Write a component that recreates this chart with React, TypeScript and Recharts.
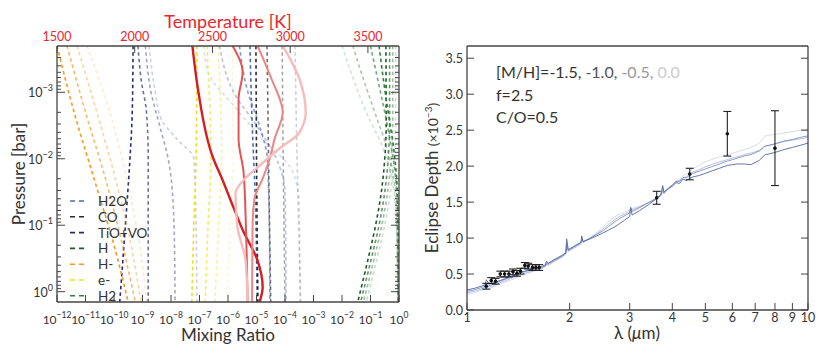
import React from "react";
import { ComposedChart, ErrorBar, Line, LineChart, Scatter, XAxis, YAxis } from "recharts";

const FONT = "Lato, 'Open Sans', sans-serif";
const AX = "#444";
const TXT = "#333";
const TEMP_RED = "#e8262d";
const AXLINE = { stroke: AX, strokeWidth: 1.3 };

// ---------- left panel: [log10 P (bar), log10 mixing ratio], darkest profile first ----------
const H2O = [
  [[-3.7, -5.23], [-2.5, -5.15], [-1.5, -5.05], [0.16, -4.98]],
  [[-3.7, -5.6], [-3.0, -5.3], [-2.5, -4.9], [-2.0, -4.62], [-1.0, -4.55], [0.16, -4.53]],
  [[-3.7, -6.3], [-3.0, -5.8], [-2.5, -5.0], [-2.0, -4.3], [-1.5, -4.0], [0.16, -3.96]],
  [[-3.7, -6.85], [-3.3, -6.7], [-2.8, -5.8], [-2.3, -4.8], [-1.8, -3.72], [-1.3, -3.5], [0.16, -3.47]],
];
const CO = [
  [[-3.7, -5.02], [-1.5, -4.99], [0.16, -4.95]],
  [[-3.7, -4.63], [-1.5, -4.56], [0.16, -4.5]],
  [[-3.7, -4.1], [-1.5, -4.05], [0.16, -4.0]],
  [[-3.7, -3.65], [-1.5, -3.55], [0.16, -3.45]],
];
const TIO_VO = [
  [[-3.7, -9.33], [-2.7, -9.36], [-2.0, -9.44], [-1.0, -9.6], [0.16, -9.8]],
  [[-3.7, -9.16], [-3.2, -9.05], [-2.7, -8.86], [-2.0, -8.8], [-1.0, -8.8], [0.16, -8.8]],
  [[-3.7, -8.9], [-3.0, -8.7], [-2.5, -8.4], [-2.0, -8.1], [-1.5, -7.95], [-0.5, -7.87], [0.16, -7.86]],
  [[-3.7, -8.77], [-3.0, -8.55], [-2.6, -8.35], [-2.3, -7.8], [-2.0, -7.2], [-1.0, -7.12], [0.16, -7.09]],
];
const H_ATOM = [
  [[-3.7, -0.46], [-2.5, -0.45], [-2.0, -0.5], [-1.5, -0.62], [-1.0, -0.82], [-0.5, -1.08], [0.16, -1.45]],
  [[-3.7, -0.33], [-2.5, -0.33], [-2.0, -0.38], [-1.5, -0.5], [-1.0, -0.7], [-0.5, -0.97], [0.16, -1.35]],
  [[-3.7, -0.22], [-2.5, -0.22], [-2.0, -0.27], [-1.5, -0.4], [-1.0, -0.6], [-0.5, -0.87], [0.16, -1.25]],
  [[-3.7, -0.12], [-2.5, -0.12], [-2.0, -0.17], [-1.5, -0.3], [-1.0, -0.5], [-0.5, -0.77], [0.16, -1.15]],
];
const H_MINUS = [
  [[-3.7, -12.0], [-2.7, -11.4], [-1.7, -10.7], [-0.7, -10.0], [0.16, -9.5]],
  [[-3.7, -11.65], [-2.7, -11.0], [-1.7, -10.3], [-0.7, -9.7], [0.16, -9.25]],
  [[-3.7, -11.3], [-2.7, -10.6], [-1.7, -9.95], [-0.7, -9.4], [0.16, -9.05]],
  [[-3.7, -10.95], [-2.7, -10.15], [-1.7, -9.55], [-0.7, -9.1], [0.16, -8.85]],
];
const E_MINUS = [
  [[-3.7, -7.09], [-2.0, -7.12], [-1.0, -7.2], [0.16, -7.27]],
  [[-3.7, -6.74], [-2.0, -6.6], [-1.0, -6.7], [0.16, -6.8]],
  [[-3.7, -6.35], [-2.0, -6.22], [-1.0, -6.33], [0.16, -6.46]],
  [[-3.7, -5.85], [-2.0, -5.82], [-1.0, -5.92], [0.16, -6.04]],
];
const H2 = [
  [[-3.7, -0.7], [-3.2, -0.55], [-2.7, -0.38], [-2.2, -0.2], [-1.8, -0.1], [-1.2, -0.04], [0.16, -0.02]],
  [[-3.7, -1.0], [-3.2, -0.75], [-2.7, -0.5], [-2.2, -0.28], [-1.8, -0.14], [-1.2, -0.06], [0.16, -0.03]],
  [[-3.7, -1.62], [-3.2, -1.25], [-2.7, -0.85], [-2.2, -0.45], [-1.8, -0.22], [-1.2, -0.09], [0.16, -0.04]],
  [[-3.7, -2.0], [-3.2, -1.6], [-2.7, -1.15], [-2.2, -0.6], [-1.8, -0.3], [-1.2, -0.12], [0.16, -0.05]],
];

// temperature profiles: [log10 P (bar), T (K)]
const TEMP_PROFILES = [
  [[-3.7, 2371], [-3.0, 2410], [-2.0, 2506], [-1.68, 2565], [-1.38, 2616], [-0.9, 2700], [-0.47, 2790], [-0.07, 2823], [0.16, 2803]],
  [[-3.7, 2629], [-3.3, 2694], [-2.9, 2668], [-2.3, 2668], [-1.8, 2700], [-1.0, 2715], [0.16, 2726]],
  [[-3.7, 2790], [-3.2, 2880], [-2.7, 2952], [-2.3, 2900], [-2.0, 2868], [-1.7, 2823], [-1.4, 2770], [-1.0, 2758], [0.16, 2755]],
  [[-3.7, 2952], [-3.2, 3060], [-2.7, 3100], [-2.38, 3055], [-2.17, 2939], [-1.87, 2790], [-1.68, 2700], [-1.48, 2648], [-0.97, 2661], [-0.47, 2713], [0.16, 2726]],
];
const TEMP_COLORS = ["#d41f22", "#e25555", "#ec8585", "#f6bcbc"];
const TEMP_WIDTHS = [2.4, 2, 2, 2.4];

const SPECIES = [
  { name: "H2O", color: "#4a6ab5", profiles: H2O },
  { name: "CO", color: "#2b2b2b", profiles: CO },
  { name: "TiO+VO", color: "#262b73", profiles: TIO_VO },
  { name: "H", color: "#1d5c27", profiles: H_ATOM },
  { name: "H-", color: "#f39a1e", profiles: H_MINUS },
  { name: "e-", color: "#f0e01c", profiles: E_MINUS },
  { name: "H2", color: "#2f7f3a", profiles: H2 },
];
const ALPHA = [1, 0.68, 0.42, 0.22];

const MIX_TICKS = [1e-12, 1e-11, 1e-10, 1e-9, 1e-8, 1e-7, 1e-6, 1e-5, 1e-4, 1e-3, 1e-2, 1e-1, 1];
const TEMP_TICKS = [1500, 2000, 2500, 3000, 3500];
const P_TOP = 2.01e-4;
const P_BOTTOM = 1.43;
const P_MAJOR = [1e-3, 1e-2, 1e-1, 1];
const P_TICKS = [
  ...P_MAJOR,
  ...[1e-4, 1e-3, 1e-2, 1e-1].flatMap((d) => [2, 3, 4, 5, 6, 7, 8, 9].map((k) => k * d)),
].filter((v) => v > P_TOP && v < P_BOTTOM);

// ---------- right panel ----------
const WAVELENGTH = [
  1.0, 1.05, 1.1, 1.13, 1.14, 1.16, 1.2, 1.25, 1.3, 1.35,
  1.4, 1.45, 1.5, 1.55, 1.6, 1.65, 1.7, 1.71, 1.73, 1.8,
  1.85, 1.9, 1.95, 1.96, 1.98, 2.05, 2.1, 2.16, 2.17, 2.19,
  2.3, 2.4, 2.5, 2.6, 2.7, 2.8, 2.9, 3.0, 3.02, 3.05,
  3.2, 3.4, 3.6, 3.7, 3.75, 3.78, 3.9, 4.0, 4.1, 4.2,
  4.3, 4.4, 4.5, 4.6, 4.8, 5.0, 5.2, 5.5, 5.8, 6.0,
  6.2, 6.5, 6.8, 7.2, 7.4, 7.5, 7.7, 8.0, 8.5, 9.0,
  9.5, 10.0,
];
const MH_M15 = [
  0.28, 0.3, 0.33, 0.35, 0.42, 0.36, 0.38, 0.41, 0.44, 0.47,
  0.5, 0.53, 0.55, 0.57, 0.58, 0.6, 0.63, 0.68, 0.65, 0.7,
  0.73, 0.76, 0.8, 0.99, 0.84, 0.88, 0.91, 0.94, 1.03, 0.95,
  0.99, 1.03, 1.07, 1.11, 1.15, 1.2, 1.25, 1.3, 1.42, 1.32,
  1.38, 1.46, 1.55, 1.6, 1.73, 1.64, 1.69, 1.72, 1.77, 1.76,
  1.82, 1.8, 1.83, 1.85, 1.87, 1.9, 1.93, 1.97, 2.01, 2.02,
  2.03, 2.03, 2.02, 2.08, 2.14, 2.16, 2.17, 2.19, 2.23, 2.26,
  2.29, 2.32,
];
const MH_M10 = [
  0.26, 0.28, 0.31, 0.33, 0.38, 0.34, 0.36, 0.4, 0.43, 0.46,
  0.49, 0.52, 0.54, 0.56, 0.57, 0.59, 0.62, 0.66, 0.64, 0.69,
  0.72, 0.75, 0.79, 0.95, 0.83, 0.87, 0.9, 0.94, 1.01, 0.95,
  1.0, 1.05, 1.1, 1.16, 1.22, 1.27, 1.31, 1.35, 1.43, 1.37,
  1.42, 1.49, 1.56, 1.6, 1.7, 1.63, 1.7, 1.74, 1.79, 1.79,
  1.84, 1.84, 1.87, 1.9, 1.93, 1.96, 1.99, 2.03, 2.07, 2.09,
  2.11, 2.14, 2.16, 2.21, 2.26, 2.28, 2.29, 2.31, 2.35, 2.37,
  2.4, 2.42,
];
const MH_M05 = [
  0.24, 0.26, 0.29, 0.31, 0.35, 0.32, 0.34, 0.38, 0.41, 0.44,
  0.47, 0.5, 0.52, 0.54, 0.56, 0.58, 0.61, 0.64, 0.63, 0.68,
  0.71, 0.74, 0.78, 0.92, 0.82, 0.86, 0.89, 0.93, 0.99, 0.94,
  1.0, 1.06, 1.12, 1.19, 1.25, 1.3, 1.33, 1.37, 1.41, 1.39,
  1.43, 1.49, 1.55, 1.59, 1.66, 1.62, 1.69, 1.73, 1.78, 1.79,
  1.84, 1.85, 1.89, 1.92, 1.95, 1.99, 2.02, 2.06, 2.09, 2.11,
  2.13, 2.16, 2.18, 2.22, 2.26, 2.28, 2.29, 2.31, 2.34, 2.36,
  2.38, 2.4,
];
const MH_00 = [
  0.22, 0.24, 0.27, 0.29, 0.32, 0.3, 0.32, 0.36, 0.39, 0.42,
  0.45, 0.48, 0.5, 0.53, 0.55, 0.57, 0.6, 0.63, 0.62, 0.67,
  0.7, 0.74, 0.78, 0.9, 0.81, 0.85, 0.88, 0.92, 0.97, 0.94,
  1.01, 1.08, 1.15, 1.23, 1.29, 1.33, 1.36, 1.39, 1.41, 1.41,
  1.44, 1.49, 1.54, 1.58, 1.64, 1.61, 1.68, 1.73, 1.79, 1.81,
  1.87, 1.89, 1.93, 1.97, 2.01, 2.06, 2.09, 2.13, 2.16, 2.18,
  2.2, 2.23, 2.26, 2.32, 2.39, 2.42, 2.43, 2.44, 2.46, 2.48,
  2.5, 2.51,
];
const MODEL_KEYS = ["m15", "m10", "m05", "m00"];
const MODEL_ALPHA = [1, 0.7, 0.45, 0.25];

const OBS_WL = [1.139, 1.178, 1.213, 1.252, 1.289, 1.327, 1.364, 1.401, 1.435, 1.478, 1.512, 1.556, 1.592, 1.628, 3.6, 4.5, 5.8, 8.0];
const OBS_DEPTH = [0.33, 0.41, 0.4, 0.5, 0.5, 0.5, 0.53, 0.51, 0.54, 0.62, 0.61, 0.59, 0.59, 0.59, 1.56, 1.89, 2.45, 2.25];
const OBS_ERR = [0.04, 0.04, 0.04, 0.04, 0.04, 0.04, 0.04, 0.04, 0.04, 0.04, 0.04, 0.04, 0.04, 0.04, 0.09, 0.08, 0.31, 0.52];

const WL_TICKS = [1, 2, 3, 4, 5, 6, 7, 8, 9, 10];
const DEPTH_TICKS = [0, 0.5, 1, 1.5, 2, 2.5, 3, 3.5];

const MODEL_ROWS = WAVELENGTH.map((wl, i) => ({
  wl,
  m15: MH_M15[i],
  m10: MH_M10[i],
  m05: MH_M05[i],
  m00: MH_00[i],
}));
const OBS_ROWS = OBS_WL.map((wl, i) => ({ wl, depth: OBS_DEPTH[i], err: OBS_ERR[i] }));

const profileRows = (prof: number[][]) => prof.map(([lp, lx]) => ({ p: 10 ** lp, mix: 10 ** lx }));
const tempRows = (prof: number[][]) => prof.map(([lp, t]) => ({ p: 10 ** lp, T: t }));

const expOf = (v: number) => Math.round(Math.log10(v));
const isDecade = (v: number) => Math.abs(Math.log10(v) - Math.round(Math.log10(v))) < 1e-6;
const minus = (n: number) => (n < 0 ? `\u2212${-n}` : `${n}`);

// ---------- ticks (drawn inside the frame, matplotlib style) ----------
function MixTick(props: any) {
  const { x, y, payload } = props;
  return (
    <g>
      <line x1={x} x2={x} y1={y} y2={y - 7} stroke={AX} strokeWidth={1} />
      <text x={x} y={y + 22} textAnchor="middle" fontSize={12} fill={TXT} fontFamily={FONT}>
        10<tspan dy={-6} fontSize={8.5}>{minus(expOf(payload.value))}</tspan>
      </text>
    </g>
  );
}

function TempTick(props: any) {
  const { x, y, payload } = props;
  return (
    <g>
      <line x1={x} x2={x} y1={y} y2={y + 7} stroke={AX} strokeWidth={1} />
      <text x={x} y={y - 5} textAnchor="middle" fontSize={12.5} fill={TEMP_RED} fontFamily={FONT}>
        {payload.value}
      </text>
    </g>
  );
}

function PTickLeft(props: any) {
  const { x, y, payload } = props;
  const major = isDecade(payload.value);
  return (
    <g>
      <line x1={x} x2={x + (major ? 8 : 4)} y1={y} y2={y} stroke={AX} strokeWidth={1} />
      {major && (
        <text x={x - 4} y={y + 5} textAnchor="end" fontSize={12.5} fill={TXT} fontFamily={FONT}>
          10<tspan dy={-6} fontSize={9}>{minus(expOf(payload.value))}</tspan>
        </text>
      )}
    </g>
  );
}

function PTickRight(props: any) {
  const { x, y, payload } = props;
  const major = isDecade(payload.value);
  return <line x1={x} x2={x - (major ? 8 : 4)} y1={y} y2={y} stroke={AX} strokeWidth={1} />;
}

function WlTick(props: any) {
  const { x, y, payload } = props;
  return (
    <g>
      <line x1={x} x2={x} y1={y} y2={y - 7} stroke={AX} strokeWidth={1} />
      <text x={x} y={y + 12} textAnchor="middle" fontSize={12.5} fill={TXT} fontFamily={FONT}>
        {payload.value}
      </text>
    </g>
  );
}

function WlTopTick(props: any) {
  const { x, y } = props;
  return <line x1={x} x2={x} y1={y} y2={y + 7} stroke={AX} strokeWidth={1} />;
}

function DepthTick(props: any) {
  const { x, y, payload } = props;
  return (
    <g>
      <line x1={x} x2={x + 7} y1={y} y2={y} stroke={AX} strokeWidth={1} />
      <text x={x - 4} y={y + 4.5} textAnchor="end" fontSize={12.5} fill={TXT} fontFamily={FONT}>
        {payload.value.toFixed(1)}
      </text>
    </g>
  );
}

function DepthTickRight(props: any) {
  const { x, y } = props;
  return <line x1={x} x2={x - 7} y1={y} y2={y} stroke={AX} strokeWidth={1} />;
}

function ObsDot(props: any) {
  const { cx, cy } = props;
  return <circle cx={cx} cy={cy} r={1.8} fill="#111" />;
}

function MixingChart() {
  return (
    <LineChart width={420} height={356} margin={{ top: 0, right: 20, bottom: 0, left: 0 }}>
      <XAxis
        xAxisId="mix"
        dataKey="mix"
        type="number"
        scale="log"
        domain={[1e-12, 1]}
        allowDataOverflow
        ticks={MIX_TICKS}
        interval={0}
        height={54}
        tickSize={0}
        tickMargin={0}
        tick={MixTick}
        tickLine={false}
        axisLine={AXLINE}
      />
      <XAxis
        xAxisId="T"
        dataKey="T"
        type="number"
        orientation="top"
        domain={[1500, 3700]}
        allowDataOverflow
        ticks={TEMP_TICKS}
        interval={0}
        height={46}
        tickSize={0}
        tickMargin={0}
        tick={TempTick}
        tickLine={false}
        axisLine={AXLINE}
      />
      <YAxis
        yAxisId="p"
        type="number"
        scale="log"
        reversed
        domain={[P_TOP, P_BOTTOM]}
        allowDataOverflow
        ticks={P_TICKS}
        interval={0}
        width={57}
        tickSize={0}
        tickMargin={0}
        tick={PTickLeft}
        tickLine={false}
        axisLine={AXLINE}
      />
      <YAxis
        yAxisId="pr"
        orientation="right"
        type="number"
        scale="log"
        reversed
        domain={[P_TOP, P_BOTTOM]}
        allowDataOverflow
        ticks={P_TICKS}
        interval={0}
        width={1}
        tickSize={0}
        tickMargin={0}
        tick={PTickRight}
        tickLine={false}
        axisLine={AXLINE}
      />
      {SPECIES.flatMap((sp) =>
        sp.profiles.map((prof, i) => (
          <Line
            key={`${sp.name}-${i}`}
            xAxisId="mix"
            yAxisId="p"
            data={profileRows(prof)}
            dataKey="p"
            type="monotoneY"
            stroke={sp.color}
            strokeOpacity={ALPHA[i]}
            strokeWidth={1.6}
            strokeDasharray="3.5 3"
            dot={false}
            activeDot={false}
            isAnimationActive={false}
          />
        ))
      )}
      {TEMP_PROFILES.map((prof, i) => (
        <Line
          key={`temp-${i}`}
          xAxisId="T"
          yAxisId="p"
          data={tempRows(prof)}
          dataKey="p"
          type="monotoneY"
          stroke={TEMP_COLORS[i]}
          strokeWidth={TEMP_WIDTHS[i]}
          dot={false}
          activeDot={false}
          isAnimationActive={false}
        />
      ))}
    </LineChart>
  );
}

function EclipseChart() {
  return (
    <ComposedChart width={410} height={356} data={MODEL_ROWS} margin={{ top: 0, right: 21, bottom: 0, left: 0 }}>
      <XAxis
        dataKey="wl"
        type="number"
        scale="log"
        domain={[1, 10]}
        allowDataOverflow
        ticks={WL_TICKS}
        interval={0}
        height={46}
        tickSize={0}
        tickMargin={0}
        tick={WlTick}
        tickLine={false}
        axisLine={AXLINE}
      />
      <XAxis
        xAxisId="top"
        orientation="top"
        type="number"
        scale="log"
        domain={[1, 10]}
        allowDataOverflow
        ticks={WL_TICKS}
        interval={0}
        height={46}
        tickSize={0}
        tickMargin={0}
        tick={WlTopTick}
        tickLine={false}
        axisLine={AXLINE}
      />
      <YAxis
        type="number"
        domain={[0, 3.67]}
        allowDataOverflow
        ticks={DEPTH_TICKS}
        interval={0}
        width={47}
        tickSize={0}
        tickMargin={0}
        tick={DepthTick}
        tickLine={false}
        axisLine={AXLINE}
      />
      <YAxis
        yAxisId="r"
        orientation="right"
        type="number"
        domain={[0, 3.67]}
        allowDataOverflow
        ticks={DEPTH_TICKS}
        interval={0}
        width={1}
        tickSize={0}
        tickMargin={0}
        tick={DepthTickRight}
        tickLine={false}
        axisLine={AXLINE}
      />
      {MODEL_KEYS.map((k, i) => (
        <Line
          key={k}
          dataKey={k}
          type="linear"
          stroke="#6475b0"
          strokeOpacity={MODEL_ALPHA[i]}
          strokeWidth={1}
          dot={false}
          activeDot={false}
          isAnimationActive={false}
        />
      ))}
      <Scatter data={OBS_ROWS} dataKey="depth" shape={ObsDot} isAnimationActive={false}>
        <ErrorBar dataKey="err" direction="y" width={4} stroke="#222" strokeWidth={1.1} />
      </Scatter>
    </ComposedChart>
  );
}

export default function App() {
  const legendTop = 201;
  const legendStep = 15.8;
  return (
    <div style={{ position: "absolute", left: 0, top: 0, width: 830, height: 356, background: "#fff", fontFamily: FONT }}>
      <div style={{ display: "flex" }}>
        <MixingChart />
        <EclipseChart />
      </div>
      <svg width={830} height={356} style={{ position: "absolute", left: 0, top: 0, pointerEvents: "none" }} fontFamily={FONT}>
        <text x={228} y={28} textAnchor="middle" fontSize={18} fill={TEMP_RED}>
          Temperature [K]
        </text>
        <text x={228} y={341} textAnchor="middle" fontSize={17} fill={TXT}>
          Mixing Ratio
        </text>
        <text x={25} y={174} textAnchor="middle" fontSize={17} fill={TXT} transform="rotate(-90 25 174)">
          Pressure [bar]
        </text>
        {SPECIES.map((sp, i) => {
          const cy = legendTop + i * legendStep;
          return (
            <g key={sp.name}>
              <line x1={70} x2={85} y1={cy} y2={cy} stroke={sp.color} strokeWidth={1.6} strokeDasharray="5 4" />
              <text x={98} y={cy + 5} fontSize={13.5} fill={TXT}>
                {sp.name}
              </text>
            </g>
          );
        })}
        <text x={438} y={178} textAnchor="middle" fontSize={17} fill={TXT} transform="rotate(-90 438 178)">
          Eclipse Depth <tspan fontSize={14}>(×10</tspan>
          <tspan fontSize={10} dy={-6}>−3</tspan>
          <tspan fontSize={14} dy={6}>)</tspan>
        </text>
        <text x={637} y={339} textAnchor="middle" fontSize={17} fill={TXT}>
          λ (<tspan fontStyle="italic">μ</tspan>m)
        </text>
        <text x={496} y={78} fontSize={16} fill={TXT}>
          [M/H]=-1.5, <tspan fill="#555">-1.0, </tspan>
          <tspan fill="#999">-0.5, </tspan>
          <tspan fill="#ccc">0.0</tspan>
        </text>
        <text x={496} y={100.5} fontSize={16} fill={TXT}>
          f=2.5
        </text>
        <text x={496} y={123} fontSize={16} fill={TXT}>
          C/O=0.5
        </text>
      </svg>
    </div>
  );
}
